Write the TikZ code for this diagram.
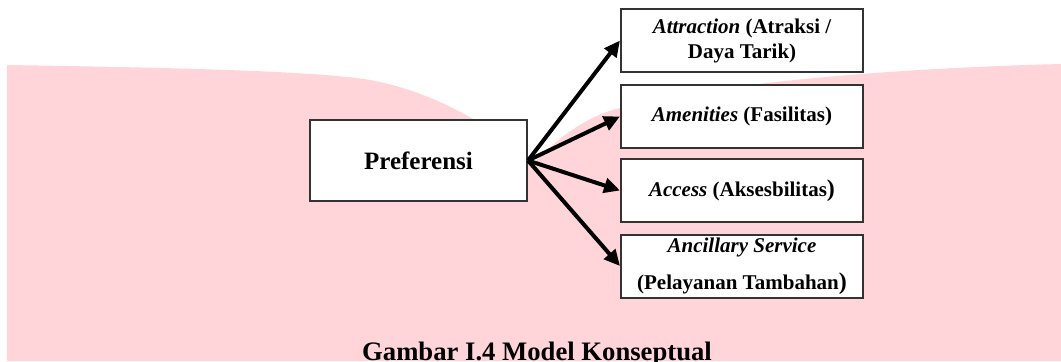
\documentclass[tikz,border=0pt]{standalone}
\usepackage{fontspec}
\setmainfont{Liberation Serif}
\usetikzlibrary{arrows.meta}
\definecolor{watermark}{RGB}{255,213,218}
\tikzset{
  kotak/.style={draw=black!80, line width=1.5pt, fill=white, align=center, inner sep=2pt,
    font=\bfseries\fontsize{15.75}{18.75}\selectfont, minimum width=181.5pt, minimum height=47.25pt},
  panah/.style={-{Triangle[length=12pt,width=11pt]}, line width=3pt}
}
\newcommand{\kurung}{{\fontsize{18}{18}\selectfont)}}
\begin{document}
\begin{tikzpicture}[x=0.75pt,y=-0.75pt]
\useasboundingbox (0,0) rectangle (1061,361);
% latar belakang
\fill[watermark] (7,361) -- (7,65) .. controls (200,68) and (340,72) .. (380,82)
  .. controls (440,95) and (500,130) .. (532,165)
  .. controls (560,135) and (590,115) .. (620,108)
  .. controls (720,82) and (900,68) .. (1061,64) -- (1061,361) -- cycle;
% kotak
\node[kotak, minimum width=162.75pt, minimum height=60.75pt,
  font=\bfseries\fontsize{18.75}{22}\selectfont] (pref) at (418.5,160.5) {Preferensi};
\node[kotak] (atr) at (742,40.5) {\textit{Attraction} (Atraksi /\\Daya Tarik)};
\node[kotak] (ame) at (742,116.5) {\textit{Amenities} (Fasilitas)};
\node[kotak] (acc) at (742,190.5) {\textit{Access} (Aksesbilitas\kurung};
\node[kotak] (anc) at (742,266) {\textit{Ancillary Service}\\[9pt](Pelayanan Tambahan\kurung};
\foreach \b in {atr,ame,acc,anc} \draw[panah] (pref.east) -- (\b.west);
% judul
\node[font=\bfseries\fontsize{20}{24}\selectfont, anchor=base] (judul) at (537,360) {Gambar I.4 Model Konseptual};
\end{tikzpicture}
\end{document}
